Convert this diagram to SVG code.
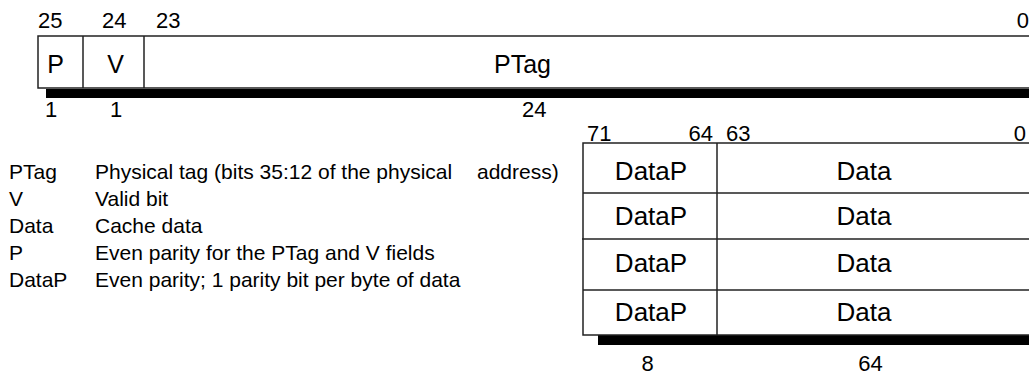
<svg xmlns="http://www.w3.org/2000/svg" width="1029" height="376" viewBox="0 0 1029 376">
  <style>
    text { font-family: "Liberation Sans", Arial, sans-serif; fill: #000; }
    .num { font-size: 22px; }
    .fld { font-size: 25px; text-anchor: middle; }
    .dat { font-size: 26px; text-anchor: middle; }
    .leg { font-size: 21px; }
    .box { fill: #fff; stroke: #222; stroke-width: 1.5; }
    .ln { stroke: #222; stroke-width: 1.5; fill: none; }
    .shadow { fill: #000; }
  </style>
  <rect width="1029" height="376" fill="#fff"/>

  <g id="tag-entry">
    <rect class="shadow" x="46" y="89" width="990" height="9"/>
    <rect class="box" x="38" y="36" width="1000" height="52"/>
    <line class="ln" x1="83" y1="36" x2="83" y2="88"/>
    <line class="ln" x1="144" y1="36" x2="144" y2="88"/>
    <text class="fld" x="55.5" y="73">P</text>
    <text class="fld" x="115.5" y="73">V</text>
    <text class="fld" x="522.5" y="73">PTag</text>
    <text class="num" x="38" y="28">25</text>
    <text class="num" x="102" y="28">24</text>
    <text class="num" x="156" y="28">23</text>
    <text class="num" x="1029" y="28" text-anchor="end">0</text>
    <text class="num" x="45" y="117">1</text>
    <text class="num" x="110" y="117">1</text>
    <text class="num" x="522" y="117">24</text>
  </g>

  <g id="data-entry">
    <rect class="shadow" x="598" y="335" width="440" height="10"/>
    <rect class="box" x="583" y="143" width="460" height="192"/>
    <line class="ln" x1="717" y1="143" x2="717" y2="335"/>
    <line class="ln" x1="583" y1="193" x2="1043" y2="193"/>
    <line class="ln" x1="582" y1="239" x2="1043" y2="239"/>
    <line class="ln" x1="583" y1="290" x2="1043" y2="290"/>
    <text class="dat" x="651" y="180">DataP</text>
    <text class="dat" x="864" y="180">Data</text>
    <text class="dat" x="651" y="225">DataP</text>
    <text class="dat" x="864" y="225">Data</text>
    <text class="dat" x="651" y="272">DataP</text>
    <text class="dat" x="864" y="272">Data</text>
    <text class="dat" x="651" y="321">DataP</text>
    <text class="dat" x="864" y="321">Data</text>
    <text class="num" x="587" y="141">71</text>
    <text class="num" x="713" y="141" text-anchor="end">64</text>
    <text class="num" x="726" y="141">63</text>
    <text class="num" x="1026" y="141" text-anchor="end">0</text>
    <text class="num" x="647.5" y="371" text-anchor="middle">8</text>
    <text class="num" x="870.5" y="371" text-anchor="middle">64</text>
  </g>

  <g id="legend">
    <text class="leg" x="9" y="179">PTag</text>
    <text class="leg" x="95" y="179">Physical tag (bits 35:12 of the physical<tspan x="477">address)</tspan></text>
    <text class="leg" x="9" y="206">V</text>
    <text class="leg" x="95" y="206">Valid bit</text>
    <text class="leg" x="9" y="233">Data</text>
    <text class="leg" x="95" y="233">Cache data</text>
    <text class="leg" x="9" y="260">P</text>
    <text class="leg" x="95" y="260">Even parity for the PTag and V fields</text>
    <text class="leg" x="9" y="287">DataP</text>
    <text class="leg" x="95" y="287">Even parity; 1 parity bit per byte of data</text>
  </g>
</svg>
